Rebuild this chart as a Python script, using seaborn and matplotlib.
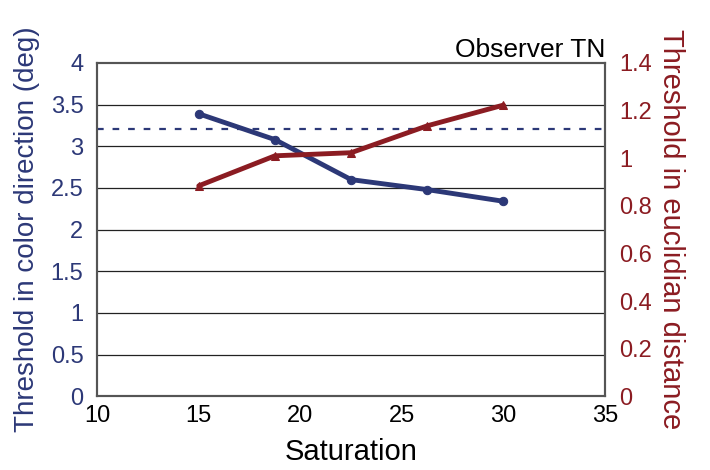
import matplotlib
matplotlib.use("Agg")
import matplotlib.pyplot as plt
import seaborn as sns
import pandas as pd

saturation = [15, 18.75, 22.5, 26.25, 30]
color_dir = [3.39, 3.08, 2.60, 2.48, 2.34]
euclid = [0.884, 1.010, 1.023, 1.136, 1.223]
ref_level = 3.21
left_ticks = [0, 0.5, 1, 1.5, 2, 2.5, 3, 3.5, 4]
right_ticks = [0, 0.2, 0.4, 0.6, 0.8, 1, 1.2, 1.4]
x_ticks = [10, 15, 20, 25, 30, 35]

blue = "#2c3877"
red = "#8b1c22"

sns.set_style("white")
plt.rcParams['font.family'] = ['Liberation Sans', 'DejaVu Sans']
plt.rcParams['text.color'] = 'black'
plt.rcParams['axes.labelcolor'] = 'black'
plt.rcParams['xtick.color'] = 'black'

df = pd.DataFrame({"sat": saturation, "cd": color_dir, "eu": euclid})

fig = plt.figure(figsize=(7.1, 4.7), dpi=100)
ax = fig.add_axes([0.137, 0.157, 0.715, 0.709])
for t in left_ticks[1:-1]:
    ax.axhline(t, color="#222222", lw=0.9, zorder=0)
ax.axhline(ref_level, color=blue, lw=1.6, ls=(0, (3, 4)), zorder=1)
sns.lineplot(data=df, x="sat", y="cd", ax=ax, color=blue, lw=3.5, marker="o",
             markersize=6, markeredgecolor=blue, zorder=3)
ax.set_xlim(10, 35)
ax.set_ylim(0, 4)
ax.set_xticks(x_ticks)
ax.set_yticks(left_ticks)
ax.set_yticklabels([f"{v:g}" for v in left_ticks], color=blue)
ax.set_xlabel("Saturation", fontsize=21, labelpad=8, color="black")
ax.set_ylabel("Threshold in color direction (deg)", fontsize=20, color=blue, labelpad=8)
ax.tick_params(axis="y", labelsize=17, length=0, pad=10)
ax.tick_params(axis="x", labelsize=17, length=0, pad=6, labelcolor="black")
for s in ax.spines.values():
    s.set_color("#555555")
    s.set_linewidth(1.5)

ax2 = ax.twinx()
sns.lineplot(data=df, x="sat", y="eu", ax=ax2, color=red, lw=3.5, marker="^",
             markersize=6, markeredgecolor=red, zorder=3)
ax2.set_ylim(0, 1.4)
ax2.set_yticks(right_ticks)
ax2.set_yticklabels([f"{v:g}" for v in right_ticks], color=red)
ax2.set_ylabel("Threshold in euclidian distance", fontsize=21, color=red, rotation=270, labelpad=24)
ax2.tick_params(axis="y", labelsize=17, length=0, pad=10)
ax2.set_xlabel("")
for s in ax2.spines.values():
    s.set_color("#555555")
    s.set_linewidth(1.5)

ax.set_title("Observer TN", loc="right", fontsize=19, pad=4, color="black")
fig.savefig("out.png", dpi=100)
